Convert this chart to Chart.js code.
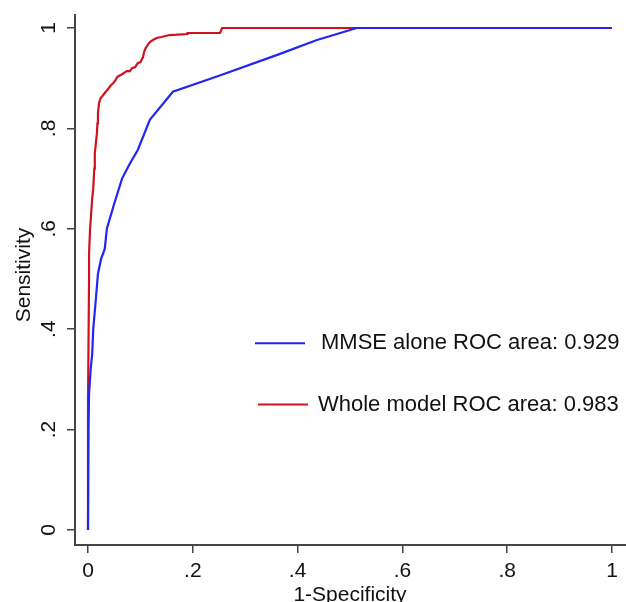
<!DOCTYPE html>
<html>
<head>
<meta charset="utf-8">
<script src="https://cdn.jsdelivr.net/npm/chart.js@4.4.0/dist/chart.umd.min.js"></script>
<style>
  html, body { margin: 0; padding: 0; background: #fff; }
  #wrap { width: 626px; height: 602px; position: relative; }
</style>
</head>
<body>
<div id="wrap"><canvas id="roc"></canvas></div>
<script>
// ROC points (1-specificity, sensitivity)
const mmseFpr = [0, 0.001, 0.002, 0.005, 0.008, 0.010, 0.015, 0.019, 0.025, 0.032, 0.036, 0.050, 0.065, 0.080, 0.095, 0.118, 0.162, 0.250, 0.360, 0.437, 0.513, 1];
const mmseTpr = [0, 0.200, 0.270, 0.320, 0.350, 0.400, 0.460, 0.510, 0.540, 0.560, 0.600, 0.650, 0.700, 0.730, 0.757, 0.817, 0.873, 0.905, 0.946, 0.976, 1.000, 1];

const wholeFpr = [0, 0, 0.002, 0.002, 0.004, 0.006, 0.008, 0.010, 0.012, 0.013, 0.015, 0.017, 0.018, 0.019, 0.021, 0.024, 0.028, 0.033, 0.038, 0.043, 0.048, 0.052, 0.056, 0.065, 0.074, 0.080, 0.084, 0.090, 0.095, 0.100, 0.105, 0.107, 0.110, 0.114, 0.118, 0.124, 0.131, 0.140, 0.156, 0.190, 0.190, 0.252, 0.256, 1];
const wholeTpr = [0, 0.25, 0.500, 0.550, 0.600, 0.630, 0.660, 0.680, 0.720, 0.750, 0.770, 0.790, 0.810, 0.830, 0.850, 0.860, 0.865, 0.872, 0.878, 0.885, 0.890, 0.895, 0.903, 0.908, 0.914, 0.914, 0.920, 0.922, 0.930, 0.932, 0.942, 0.952, 0.960, 0.966, 0.972, 0.976, 0.980, 0.982, 0.986, 0.988, 0.990, 0.990, 1.000, 1];

const seriesLabels = ['MMSE alone ROC area: 0.929', 'Whole model ROC area: 0.983'];
const tickValues = [0, 0.2, 0.4, 0.6, 0.8, 1];
const tickLabels = ['0', '.2', '.4', '.6', '.8', '1'];

const FONT = '"Liberation Sans", Arial, Helvetica, sans-serif';
const INK = '#111';
const AXIS = '#444';

const toPoints = (xs, ys) => xs.map((x, i) => ({ x: x, y: ys[i] }));
const labelFor = v => {
  const i = tickValues.findIndex(t => Math.abs(t - v) < 1e-6);
  return i >= 0 ? tickLabels[i] : '';
};

const overlay = {
  id: 'overlay',
  afterDraw(chart) {
    const ctx = chart.ctx;
    const xs = chart.scales.x;
    const ys = chart.scales.y;
    ctx.save();
    ctx.fillStyle = INK;
    ctx.textAlign = 'center';
    ctx.textBaseline = 'middle';

    // rotated y tick labels
    ctx.font = '21px ' + FONT;
    tickValues.forEach((v, i) => {
      ctx.save();
      ctx.translate(49, ys.getPixelForValue(v));
      ctx.rotate(-Math.PI / 2);
      ctx.fillText(tickLabels[i], 0, 0);
      ctx.restore();
    });

    // axis titles
    ctx.font = '21px ' + FONT;
    ctx.save();
    ctx.translate(24, ys.getPixelForValue(0.5) - 4);
    ctx.rotate(-Math.PI / 2);
    ctx.fillText('Sensitivity', 0, 0);
    ctx.restore();
    ctx.fillText('1-Specificity', xs.getPixelForValue(0.5), 595);

    // legend inside plot
    ctx.textAlign = 'left';
    ctx.font = '22px ' + FONT;
    const rows = [
      { x0: 255, x1: 305, tx: 321, y: ys.getPixelForValue(0.372) },
      { x0: 258, x1: 308, tx: 318, y: ys.getPixelForValue(0.25) }
    ];
    chart.data.datasets.forEach((ds, i) => {
      const r = rows[i];
      ctx.strokeStyle = ds.borderColor;
      ctx.lineWidth = 2;
      ctx.beginPath();
      ctx.moveTo(r.x0, r.y);
      ctx.lineTo(r.x1, r.y);
      ctx.stroke();
      ctx.fillStyle = INK;
      ctx.fillText(ds.label, r.tx, r.y);
    });
    ctx.restore();
  }
};

new Chart(document.getElementById('roc'), {
  type: 'scatter',
  data: {
    datasets: [
      {
        label: seriesLabels[0],
        data: toPoints(mmseFpr, mmseTpr),
        showLine: true,
        borderColor: '#2424f5',
        borderWidth: 2.2,
        pointRadius: 0,
        tension: 0,
      },
      {
        label: seriesLabels[1],
        data: toPoints(wholeFpr, wholeTpr),
        showLine: true,
        borderColor: '#d0121e',
        borderWidth: 2.2,
        pointRadius: 0,
        tension: 0,
      },
    ],
  },
  options: {
    responsive: true,
    maintainAspectRatio: false,
    animation: false,
    layout: { padding: { top: 15, right: 0, left: 0, bottom: 0 } },
    plugins: {
      legend: { display: false },
      tooltip: { enabled: false },
    },
    scales: {
      x: {
        type: 'linear',
        min: -0.0248,
        max: 1.0267,
        afterFit(scale) { scale.height = 57; },
        afterBuildTicks(scale) { scale.ticks = tickValues.map(v => ({ value: v })); },
        border: { display: true, color: AXIS, width: 2 },
        grid: { drawOnChartArea: false, drawTicks: true, tickLength: 8, color: AXIS, lineWidth: 1.5 },
        ticks: {
          autoSkip: false,
          maxRotation: 0,
          padding: 6,
          color: INK,
          font: { family: FONT, size: 21 },
          callback: v => labelFor(v),
        },
      },
      y: {
        type: 'linear',
        min: -0.0299,
        max: 1.0259,
        afterFit(scale) { scale.width = 75; },
        afterBuildTicks(scale) { scale.ticks = tickValues.map(v => ({ value: v })); },
        border: { display: true, color: AXIS, width: 2 },
        grid: { drawOnChartArea: false, drawTicks: true, tickLength: 8, color: AXIS, lineWidth: 1.5 },
        ticks: { display: false },
      },
    },
  },
  plugins: [overlay],
});
</script>
</body>
</html>
